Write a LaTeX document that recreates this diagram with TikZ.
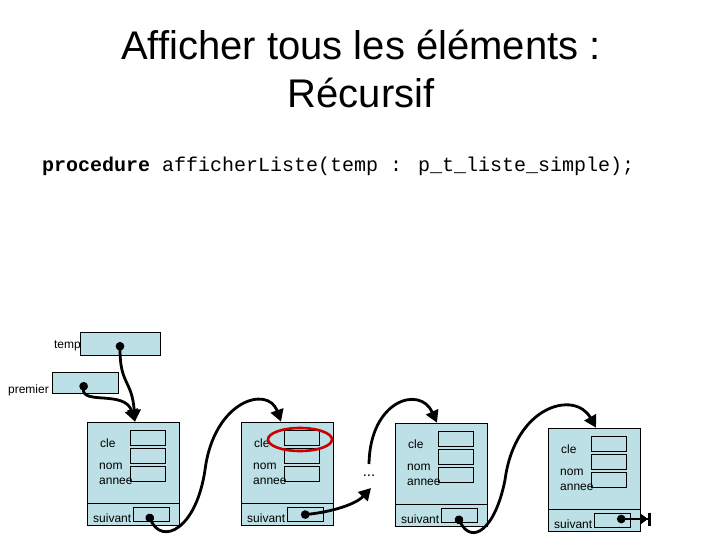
\documentclass[tikz,border=0pt]{standalone}
\usepackage{fontspec}
\setmainfont{Liberation Sans}
\newfontfamily\codefont{Liberation Mono}
\usetikzlibrary{arrows.meta,shapes.geometric}
\definecolor{cellblue}{RGB}{189,224,230}
\definecolor{ringred}{RGB}{204,0,0}
\tikzset{
  box/.style={draw=black,fill=cellblue,line width=0.6pt,inner sep=0pt},
  lbl/.style={font=\fontsize{12}{14}\selectfont,inner sep=0pt,anchor=base west},
  ptr/.style={line width=2.8pt,{Circle[length=8.5pt]}-{Triangle[length=12pt,width=13pt]}},
}
\newcommand\listcell[3]{%
  \node[box,minimum width=92pt,minimum height=81pt] (#1) at ({#2+46},{#3+40.5}) {};
  \node[box,minimum width=92pt,minimum height=22pt] (#1-bot) at ({#2+46},{#3+92}) {};
  \node[box,minimum width=35pt,minimum height=15pt] (#1-cle) at ({#2+61},{#3+16}) {};
  \node[box,minimum width=35pt,minimum height=15pt] (#1-nom) at ({#2+61},{#3+34}) {};
  \node[box,minimum width=35pt,minimum height=15pt] (#1-annee) at ({#2+61},{#3+52}) {};
  \node[box,minimum width=36pt,minimum height=14pt] (#1-suiv) at ({#2+64},{#3+92}) {};
  \node[lbl] (#1-lc) at ({#2+13},{#3+25}) {cle};
  \node[lbl] (#1-ln) at ({#2+12},{#3+47}) {nom};
  \node[lbl] (#1-la) at ({#2+12},{#3+62}) {annee};
  \node[lbl] (#1-ls) at ({#2+6},{#3+100}) {suivant};
}
\begin{document}
\begin{tikzpicture}[x=1pt,y=-1pt]
\useasboundingbox (0,0) rectangle (720,540);
% title
\node[font=\fontsize{40}{48}\selectfont,align=center,inner sep=0pt,anchor=base] (title) at (361,108)
  {Afficher tous les éléments :\\Récursif};
\node[font=\codefont\fontsize{20}{24}\selectfont,inner sep=0pt,anchor=base west] (code) at (42,172)
  {\textbf{procedure} afficherListe(temp : p\_t\_liste\_simple);};
% pointer variables
\node[box,minimum width=80pt,minimum height=23pt] (temp) at (120,343.5) {};
\node[lbl,anchor=base east] (templ) at (81,348) {temp};
\node[box,minimum width=66pt,minimum height=21pt] (premier) at (85,383) {};
\node[lbl,anchor=base east] (premierl) at (49,393) {premier};
% cells
\listcell{c1}{87}{422}
\listcell{c2}{241}{422}
\listcell{c3}{395}{423}
\listcell{c4}{548}{428}
% red ring
\node[ellipse,draw=ringred,line width=2.6pt,minimum width=64pt,minimum height=23pt,inner sep=0pt] (ring) at (300,439.5) {};
% ellipsis
\node[font=\fontsize{15}{18}\selectfont,inner sep=0pt] (dots) at (369,476) {...};
\coordinate (dtop) at (369,464);
\coordinate (dbot) at (371,488);
% pointers
\coordinate (tp) at (120,342);
\coordinate (pp) at (84,382);
\coordinate (s1) at (148,514);
\coordinate (s2) at (301,515);
\coordinate (s3) at (457,516);
\coordinate (s4) at (617,519);
\coordinate (nilend) at (651,519);
\draw[ptr] (tp) .. controls (120,385) and (132,380) .. (c1.north -| 135,0);
\draw[ptr] (pp) .. controls (82,405) and (125,390) .. (c1.north -| 135,0);
\draw[ptr] (s1) .. controls (162,545) and (196,530) .. (205,470) .. controls (214,400) and (268,385) .. (c2.north -| 281,0);
\draw[ptr] (s2) .. controls (330,512) and (355,505) .. (dbot);
\draw[line width=2.8pt,-{Triangle[length=12pt,width=13pt]}] (dtop) .. controls (370,400) and (420,385) .. (c3.north -| 437,0);
\draw[ptr] (s3) .. controls (472,545) and (495,530) .. (505,480) .. controls (515,405) and (575,390) .. (c4.north -| 596,0);
\draw[line width=2.8pt,{Circle[length=8.5pt]}-{Triangle[length=8pt,width=11pt]Bar[width=13pt,line width=3pt]}] (s4) -- (nilend);
\end{tikzpicture}
\end{document}
